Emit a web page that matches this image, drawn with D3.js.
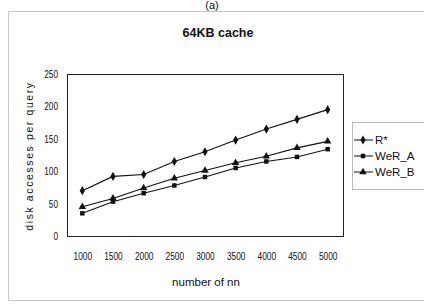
<!DOCTYPE html>
<html>
<head>
<meta charset="utf-8">
<script src="https://cdn.jsdelivr.net/npm/d3@7"></script>
<style>
  body { margin: 0; background: #fff; }
  svg text { font-family: "Liberation Sans", Arial, sans-serif; fill: #111; }
</style>
</head>
<body>
<div id="chart"></div>
<script>
// data
const categories = ["1000", "1500", "2000", "2500", "3000", "3500", "4000", "4500", "5000"];
const rStar = [70, 92, 95, 115, 130, 148, 165, 180, 195];
const werA  = [35, 53, 66, 78, 91, 105, 115, 122, 134];
const werB  = [45, 58, 74, 89, 101, 113, 123, 136, 146];
const yTicks = [0, 50, 100, 150, 200, 250];

const series = [
  {name: "R*", values: rStar, symbol: d3.symbolDiamond, size: 24},
  {name: "WeR_A", values: werA, symbol: d3.symbolSquare, size: 20},
  {name: "WeR_B", values: werB, symbol: d3.symbolTriangle, size: 24}
];

const W = 424, H = 304;
const plot = {left: 67, top: 74, right: 343, bottom: 236};

const svg = d3.select("#chart").append("svg")
    .attr("width", W)
    .attr("height", H);

// outer frame of the figure
svg.append("rect")
    .attr("x", 8.5).attr("y", 11.5)
    .attr("width", 430).attr("height", 289)
    .attr("fill", "none")
    .attr("stroke", "#c8c8c8");

svg.append("text")
    .attr("x", 212).attr("y", 9)
    .attr("text-anchor", "middle")
    .style("font-size", "11px")
    .text("(a)");

svg.append("text")
    .attr("x", 218).attr("y", 37)
    .attr("text-anchor", "middle")
    .style("font-size", "12.5px")
    .style("font-weight", "bold")
    .text("64KB cache");

const x = d3.scalePoint()
    .domain(categories)
    .range([plot.left, plot.right])
    .padding(0.5);
const y = d3.scaleLinear()
    .domain([0, 250])
    .range([plot.bottom, plot.top]);

// plot frame
svg.append("rect")
    .attr("x", plot.left + 0.5).attr("y", plot.top + 0.5)
    .attr("width", plot.right - plot.left).attr("height", plot.bottom - plot.top)
    .attr("fill", "none")
    .attr("stroke", "#222");

// tick labels are condensed in the original
const yAxis = svg.append("g")
    .attr("transform", "translate(" + plot.left + ",0)")
    .call(d3.axisLeft(y).tickValues(yTicks).tickSize(0).tickPadding(9));
yAxis.select(".domain").remove();
yAxis.selectAll("text")
    .style("font-size", "11px")
    .style("fill", "#111")
    .attr("textLength", d => String(d).length * 4.6)
    .attr("lengthAdjust", "spacingAndGlyphs");

const xAxis = svg.append("g")
    .attr("transform", "translate(0," + plot.bottom + ")")
    .call(d3.axisBottom(x).tickSize(0).tickPadding(16));
xAxis.select(".domain").remove();
xAxis.selectAll("text")
    .style("font-size", "11px")
    .style("fill", "#111")
    .attr("textLength", 18.5)
    .attr("lengthAdjust", "spacingAndGlyphs");

svg.append("text")
    .attr("x", 206).attr("y", 286)
    .attr("text-anchor", "middle")
    .style("font-size", "11.5px")
    .text("number of nn");

svg.append("text")
    .attr("transform", "translate(33,156) rotate(-90)")
    .attr("text-anchor", "middle")
    .style("font-size", "10.5px")
    .style("letter-spacing", "1.6px")
    .text("disk accesses per query");

const line = d3.line()
    .x((d, i) => x(categories[i]))
    .y(d => y(d));

series.forEach(s => {
  svg.append("path")
      .datum(s.values)
      .attr("d", line)
      .attr("fill", "none")
      .attr("stroke", "#111")
      .attr("stroke-width", 1.1);
  svg.selectAll(null)
      .data(s.values)
      .enter().append("path")
      .attr("transform", (d, i) => "translate(" + x(categories[i]) + "," + y(d) + ")")
      .attr("d", d3.symbol().type(s.symbol).size(s.size))
      .attr("fill", "#111");
});

// legend
const legend = svg.append("g").attr("transform", "translate(352,122)");
legend.append("rect")
    .attr("x", 0.5).attr("y", 0.5)
    .attr("width", 80).attr("height", 67)
    .attr("fill", "#fff")
    .attr("stroke", "#bbb");
series.forEach((s, i) => {
  const ly = 18 + i * 16;
  legend.append("line")
      .attr("x1", 2).attr("x2", 21)
      .attr("y1", ly).attr("y2", ly)
      .attr("stroke", "#111");
  legend.append("path")
      .attr("transform", "translate(11," + ly + ")")
      .attr("d", d3.symbol().type(s.symbol).size(s.size))
      .attr("fill", "#111");
  legend.append("text")
      .attr("x", 23).attr("y", ly + 4)
      .style("font-size", "11.5px")
      .text(s.name);
});
</script>
</body>
</html>
